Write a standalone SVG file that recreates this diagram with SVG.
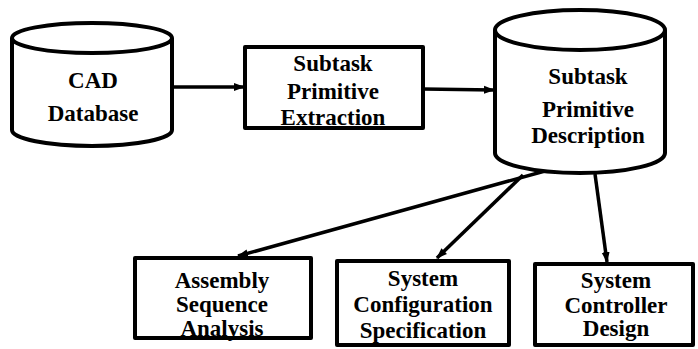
<svg xmlns="http://www.w3.org/2000/svg" width="698" height="349" viewBox="0 0 698 349">
<defs>
<style>
.shape{fill:#fff;stroke:#000;stroke-width:4;stroke-linejoin:round}
.lbl{font-family:'Liberation Serif','DejaVu Serif','Times New Roman',serif;font-weight:700;font-size:23px;fill:#000;text-anchor:middle}
.conn{fill:none;stroke:#000;stroke-width:3.5}
</style>
<marker id="ah" markerUnits="userSpaceOnUse" markerWidth="12" markerHeight="10" refX="10" refY="5" orient="auto">
<path d="M0,1 L11,5 L0,9 Z" fill="#000"/>
</marker>
</defs>
<rect width="698" height="349" fill="#fff"/>
<g id="connectors">
<line class="conn" x1="173" y1="87" x2="244" y2="87" marker-end="url(#ah)"/>
<line class="conn" x1="423" y1="89" x2="494" y2="90" marker-end="url(#ah)"/>
<line class="conn" x1="545" y1="171" x2="238" y2="256" marker-end="url(#ah)"/>
<line class="conn" x1="523" y1="175" x2="437" y2="258" marker-end="url(#ah)"/>
<line class="conn" x1="595" y1="174" x2="607" y2="262" marker-end="url(#ah)"/>
</g>
<g id="cad-database">
<path class="shape" d="M12,38 L12,130 A80,16 0 0 0 172,130 L172,38"/>
<ellipse class="shape" cx="92" cy="38" rx="80" ry="15"/>
<text class="lbl" x="93" y="88" font-family="Liberation Serif, serif">CAD</text>
<text class="lbl" x="93" y="121" font-family="Liberation Serif, serif">Database</text>
</g>
<g id="subtask-primitive-extraction">
<rect class="shape" x="245" y="47" width="178" height="81"/>
<text class="lbl" x="333" y="71">Subtask</text>
<text class="lbl" x="333" y="99">Primitive</text>
<text class="lbl" x="333" y="125">Extraction</text>
</g>
<g id="subtask-primitive-description">
<path class="shape" d="M495,30 L495,153 A85,20 0 0 0 665,153 L665,30"/>
<ellipse class="shape" cx="580" cy="30" rx="85" ry="20"/>
<text class="lbl" x="588" y="84">Subtask</text>
<text class="lbl" x="588" y="117">Primitive</text>
<text class="lbl" x="588" y="143">Description</text>
</g>
<g id="assembly-sequence-analysis">
<rect class="shape" x="135" y="258" width="176" height="80"/>
<text class="lbl" x="222" y="288">Assembly</text>
<text class="lbl" x="222" y="312">Sequence</text>
<text class="lbl" x="222" y="336">Analysis</text>
</g>
<g id="system-configuration-specification">
<rect class="shape" x="337" y="261" width="172" height="84"/>
<text class="lbl" x="423" y="286">System</text>
<text class="lbl" x="423" y="312">Configuration</text>
<text class="lbl" x="423" y="338">Specification</text>
</g>
<g id="system-controller-design">
<rect class="shape" x="535" y="264" width="158" height="81"/>
<text class="lbl" x="616" y="288">System</text>
<text class="lbl" x="616" y="313">Controller</text>
<text class="lbl" x="616" y="336">Design</text>
</g>
</svg>
